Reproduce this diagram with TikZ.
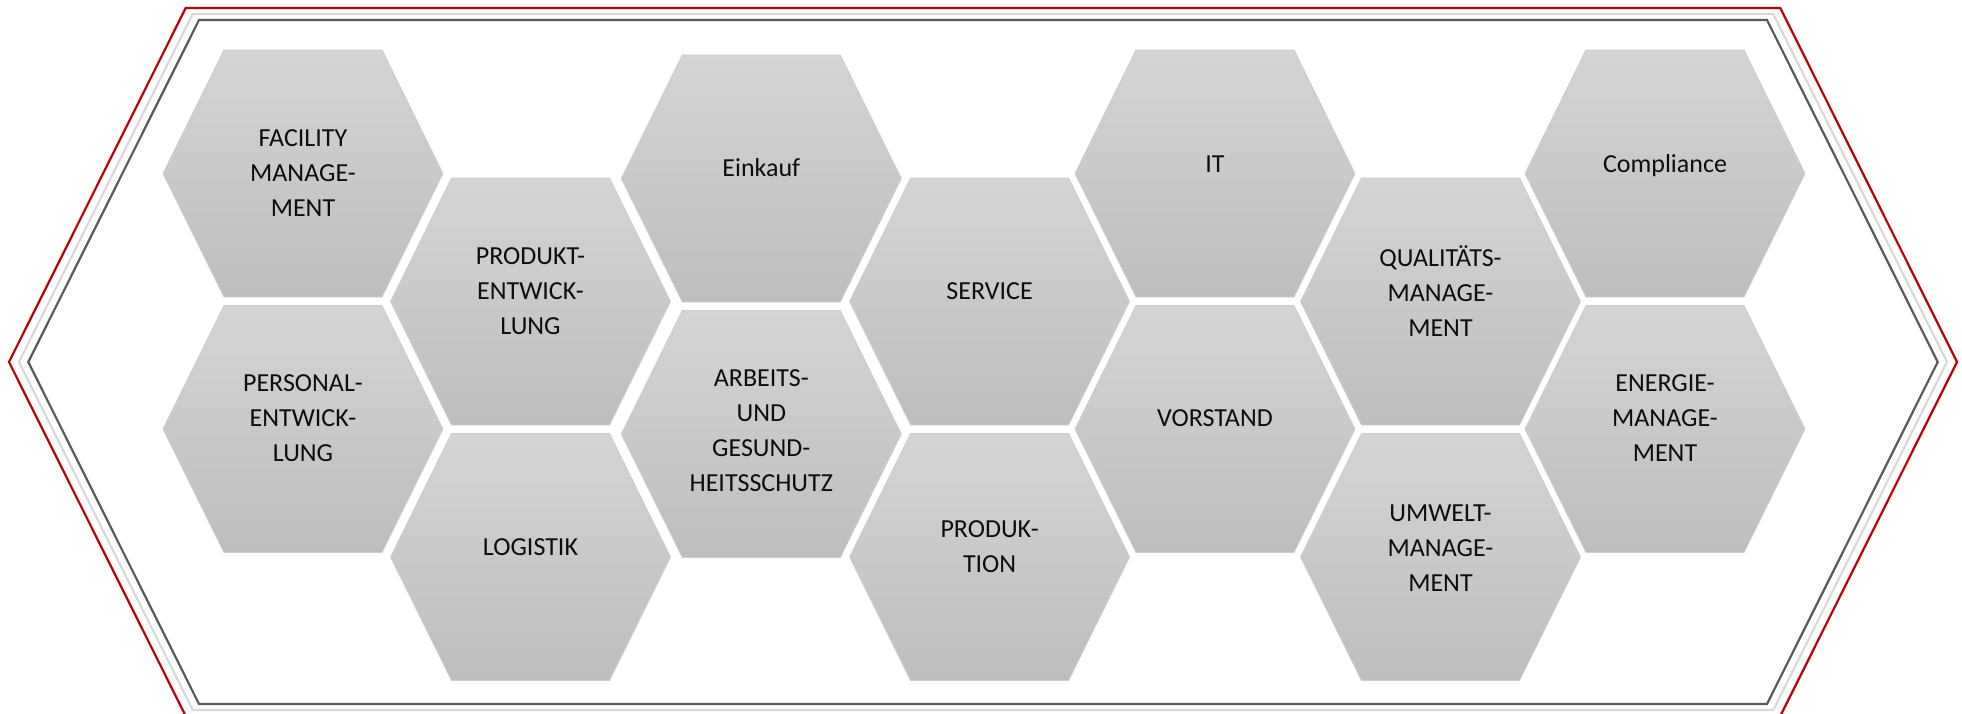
\documentclass[tikz,border=0pt]{standalone}
\usepackage{fontspec}
\setmainfont{Carlito}
\definecolor{framered}{RGB}{192,0,0}
\definecolor{framelight}{RGB}{217,217,217}
\definecolor{framedark}{RGB}{89,89,89}
\definecolor{tiletop}{RGB}{212,212,212}
\definecolor{tilebottom}{RGB}{190,190,190}
\definecolor{tileedge}{RGB}{205,205,205}
\definecolor{labelink}{RGB}{13,13,13}

\tikzset{
  frameline/.style={line width=2.2pt, line join=miter},
  hextile/.style={top color=tiletop, bottom color=tilebottom, draw=tileedge, line width=0.8pt},
  hexlabel/.style={align=center, text=labelink, inner sep=0pt,
    font=\fontsize{26}{35}\selectfont},
}

% one hexagonal tile: #1 centre x, #2 centre y, #3 node name, #4 label y, #5 label
\newcommand{\hexcell}[5]{%
  \path[hextile] (#1-140,#2) -- (#1-79,#2-123.5) -- (#1+79,#2-123.5)
     -- (#1+140,#2) -- (#1+79,#2+123.5) -- (#1-79,#2+123.5) -- cycle;
  \node[hexlabel] (#3) at (#1,#4) {#5};
}

\begin{document}
\begin{tikzpicture}[x=1pt,y=-1pt]
\useasboundingbox (0,0) rectangle (1962,713);

% triple outline of the large hexagon
\draw[frameline, framered]
  (9,362) -- (185.7,8) -- (1780.3,8) -- (1957,362) -- (1780.3,716) -- (185.7,716) -- cycle;
\draw[frameline, framelight]
  (19,362) -- (192.7,14) -- (1773.3,14) -- (1947,362) -- (1773.3,710) -- (192.7,710) -- cycle;
\draw[frameline, framedark]
  (28.3,362) -- (199,20) -- (1767,20) -- (1937.7,362) -- (1767,704) -- (199,704) -- cycle;

% column 1
\hexcell{303}{173.5}{facility}{173}{FACILITY\\MANAGE-\\MENT}
\hexcell{303}{429}{personal}{418}{PERSONAL-\\ENTWICK-\\LUNG}
% column 2
\hexcell{530.5}{301.5}{produkt}{291.5}{PRODUKT-\\ENTWICK-\\LUNG}
\hexcell{530.5}{557}{logistik}{547}{LOGISTIK}
% column 3
\hexcell{761.3}{178.5}{einkauf}{167.7}{Einkauf}
\hexcell{761.3}{434}{arbeit}{430.7}{ARBEITS-\\UND\\GESUND-\\HEITSSCHUTZ}
% column 4
\hexcell{989.6}{301.5}{service}{291}{SERVICE}
\hexcell{989.6}{557}{produktion}{546.8}{PRODUK-\\TION}
% column 5
\hexcell{1215}{173.5}{it}{164}{IT}
\hexcell{1215}{429}{vorstand}{418}{VORSTAND}
% column 6
\hexcell{1440.5}{301.5}{qualitaet}{291.5}{QUALITÄTS-\\MANAGE-\\MENT}
\hexcell{1440.5}{557}{umwelt}{547.7}{UMWELT-\\MANAGE-\\MENT}
% column 7
\hexcell{1665}{173.5}{compliance}{166}{Compliance}
\hexcell{1665}{429}{energie}{418}{ENERGIE-\\MANAGE-\\MENT}
\end{tikzpicture}
\end{document}
